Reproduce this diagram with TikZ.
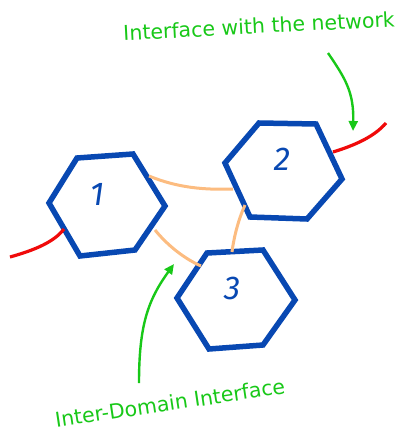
\documentclass[tikz,border=0pt]{standalone}
\usepackage{fontspec}
\setmainfont{DejaVu Sans}
\newfontfamily\digitfont{Fira Sans}
\usetikzlibrary{arrows.meta}
\definecolor{hexblue}{RGB}{8,72,178}
\definecolor{linkorange}{RGB}{252,188,128}
\definecolor{netred}{RGB}{240,10,10}
\definecolor{notegreen}{RGB}{24,200,24}
\tikzset{
  hexa/.style={draw=hexblue, line width=5.5pt, line join=miter},
  idlabel/.style={text=hexblue, font=\digitfont\fontsize{33}{33}\selectfont\itshape, inner sep=0pt},
  interlink/.style={draw=linkorange, line width=3pt},
  netlink/.style={draw=netred, line width=3.2pt},
  pointer/.style={draw=notegreen, line width=2.4pt, -{Triangle[length=10pt,width=9pt]}},
  note/.style={text=notegreen, font=\fontsize{20.5}{20.5}\selectfont, inner sep=0pt}
}
\begin{document}
\begin{tikzpicture}[x=1pt,y=-1pt]
\useasboundingbox (0,0) rectangle (402,438);

% domain 1
\draw[hexa] (77,158) -- (133,154) -- (165,206) -- (135,250) -- (80,256) -- (49,203) -- cycle;
\node[idlabel] (d1) at (97,194) {1};
% domain 2
\draw[hexa] (259,123) -- (316,124) -- (342,179) -- (307,219) -- (250,217) -- (225,163) -- cycle;
\node[idlabel] (d2) at (282,159) {2};
% domain 3
\draw[hexa] (207,253) -- (263,250) -- (295,300) -- (263,345) -- (209,349) -- (177,298) -- cycle;
\node[idlabel] (d3) at (232,288) {3};

% interface points on the domain borders
\coordinate (p12a) at (149,176);
\coordinate (p12b) at (233,189);
\coordinate (p13a) at (155,230);
\coordinate (p13b) at (201,266);
\coordinate (p23a) at (245,205);
\coordinate (p23b) at (232,252);
\coordinate (n1) at (64,229);
\coordinate (n1end) at (10,257);
\coordinate (n2) at (333,152);
\coordinate (n2end) at (386,123);

% inter-domain links
\draw[interlink] (p12a) .. controls (178,188) and (205,190) .. (p12b);
\draw[interlink] (p13a) .. controls (168,246) and (185,259) .. (p13b);
\draw[interlink] (p23a) .. controls (239,218) and (234,236) .. (p23b);

% links to the outside network
\draw[netlink] (n1end) .. controls (35,250) and (54,242) .. (n1);
\draw[netlink] (n2) .. controls (356,145) and (375,136) .. (n2end);

% annotations
\node[note, rotate=3] (topnote) at (259,26) {Interface with the network};
\node[note, rotate=8.5] (botnote) at (170,403) {Inter-Domain Interface};
\coordinate (t1) at (328,53);
\coordinate (t2) at (353,131);
\coordinate (b1) at (139,383);
\coordinate (b2) at (174,264);
\draw[pointer] (t1) .. controls (345,78) and (354,92) .. (t2);
\draw[pointer] (b1) .. controls (139,325) and (148,300) .. (b2);
\end{tikzpicture}
\end{document}
